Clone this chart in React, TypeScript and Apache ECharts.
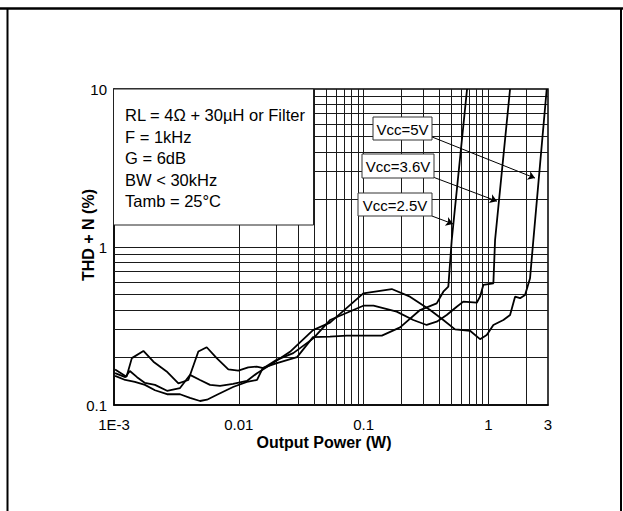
import React, { useEffect, useRef } from "react";
import * as echarts from "echarts";

const FONT = '"Liberation Sans", Arial, Helvetica, sans-serif';

// Tick labels
const xTickValues = [0.001, 0.01, 0.1, 1, 3];
const xTickLabels = ["1E-3", "0.01", "0.1", "1", "3"];
const yTickValues = [0.1, 1, 10];
const yTickLabels = ["0.1", "1", "10"];

// Grid line positions (log grid)
const xGridValues = [
  0.002, 0.003, 0.004, 0.005, 0.006, 0.007, 0.008, 0.009, 0.01,
  0.02, 0.03, 0.04, 0.05, 0.06, 0.07, 0.08, 0.09, 0.1,
  0.2, 0.3, 0.4, 0.5, 0.6, 0.7, 0.8, 0.9, 1, 2,
];
const yGridValues = [
  0.2, 0.3, 0.4, 0.5, 0.6, 0.7, 0.8, 0.9, 1,
  2, 3, 4, 5, 6, 7, 8, 9,
];

// Vcc = 5V
const vcc5X = [0.00102, 0.00123, 0.00134, 0.00153, 0.00177, 0.00213, 0.00266, 0.00338, 0.00406, 0.00489, 0.00588, 0.00707, 0.00899, 0.0116, 0.014, 0.0178, 0.0257, 0.0393, 0.0538, 0.0994, 0.168, 0.235, 0.341, 0.435, 0.54, 0.712, 0.856, 0.969, 1.095, 1.317, 1.49, 1.634, 1.792, 1.965, 2.154, 2.29, 2.93];
const vcc5Y = [0.159, 0.15, 0.164, 0.15, 0.138, 0.134, 0.123, 0.128, 0.155, 0.144, 0.134, 0.132, 0.136, 0.142, 0.159, 0.179, 0.217, 0.298, 0.332, 0.509, 0.542, 0.485, 0.399, 0.345, 0.301, 0.295, 0.261, 0.277, 0.321, 0.345, 0.371, 0.485, 0.474, 0.497, 0.634, 1.107, 10];

// Vcc = 3.6V
const vcc36X = [0.00102, 0.00126, 0.00139, 0.00172, 0.00207, 0.00264, 0.00328, 0.00394, 0.00474, 0.00553, 0.00665, 0.00824, 0.00991, 0.0119, 0.0139, 0.0157, 0.0201, 0.0273, 0.0395, 0.0538, 0.0994, 0.12, 0.184, 0.25, 0.32, 0.385, 0.463, 0.557, 0.629, 0.806, 0.856, 0.91, 1.095, 1.13, 1.49];
const vcc36Y = [0.168, 0.151, 0.198, 0.22, 0.188, 0.163, 0.137, 0.144, 0.218, 0.232, 0.198, 0.168, 0.165, 0.173, 0.175, 0.171, 0.193, 0.213, 0.264, 0.345, 0.425, 0.425, 0.39, 0.345, 0.321, 0.337, 0.371, 0.419, 0.451, 0.444, 0.485, 0.575, 0.589, 1.107, 10];

// Vcc = 2.5V
const vcc25X = [0.00102, 0.00123, 0.00147, 0.00177, 0.00213, 0.00266, 0.00338, 0.00406, 0.00489, 0.00556, 0.00669, 0.00899, 0.0116, 0.014, 0.0156, 0.0202, 0.0293, 0.0393, 0.0538, 0.0732, 0.14, 0.196, 0.283, 0.385, 0.435, 0.477, 0.508, 0.674];
const vcc25Y = [0.153, 0.144, 0.14, 0.134, 0.124, 0.117, 0.117, 0.111, 0.106, 0.108, 0.116, 0.13, 0.14, 0.144, 0.172, 0.184, 0.201, 0.269, 0.271, 0.275, 0.275, 0.31, 0.399, 0.44, 0.521, 0.561, 1.107, 10];

// Arrow annotations (data coordinates: start -> end)
const arrow5 = [[0.353, 4.97], [2.36, 2.73]];
const arrow36 = [[0.36, 2.77], [1.17, 1.95]];
const arrow25 = [[0.353, 1.57], [0.52, 1.4]];

const conditionLines = [
  "RL = 4\u03A9 + 30\u00B5H or Filter",
  "F = 1kHz",
  "G = 6dB",
  "BW < 30kHz",
  "Tamb = 25\u00B0C",
];

const zip = (xs: number[], ys: number[]) => xs.map((x, i) => [x, ys[i]]);

const labelFor = (v: number, vals: number[], labels: string[]) => {
  let best = 0;
  let bd = Infinity;
  vals.forEach((t, i) => {
    const d = Math.abs(Math.log10(v) - Math.log10(t));
    if (d < bd) {
      bd = d;
      best = i;
    }
  });
  return bd < 0.01 ? labels[best] : "";
};

export default function App() {
  const ref = useRef<HTMLDivElement>(null);

  useEffect(() => {
    if (!ref.current) return;
    const chart = echarts.init(ref.current, undefined, { renderer: "svg" });

    const curveStyle = { color: "#000", width: 1.8 };
    const mkCurve = (name: string, xs: number[], ys: number[]) => ({
      name,
      type: "line",
      data: zip(xs, ys),
      showSymbol: false,
      symbol: "none",
      lineStyle: curveStyle,
      itemStyle: { color: "#000" },
      z: 5,
      silent: true,
    });

    const boxText = (x: number, y: number, w: number, h: number, text: string) => ({
      type: "group",
      z: 100,
      children: [
        {
          type: "rect",
          shape: { x, y, width: w, height: h },
          style: { fill: "#fff", stroke: "#333", lineWidth: 1 },
          z: 100,
        },
        {
          type: "text",
          x: x + w / 2,
          y: y + h / 2 + 0.5,
          style: {
            text,
            fill: "#000",
            font: `15px ${FONT}`,
            textAlign: "center",
            textVerticalAlign: "middle",
          },
          z: 101,
        },
      ],
    });

    const option: any = {
      animation: false,
      textStyle: { fontFamily: FONT },
      grid: {
        left: 114,
        top: 89,
        width: 434,
        height: 316,
        show: true,
        borderColor: "#000",
        borderWidth: 1.5,
        backgroundColor: "transparent",
      },
      xAxis: {
        type: "log",
        logBase: 10,
        min: 0.001,
        max: 3,
        axisLine: { show: true, lineStyle: { color: "#000", width: 1.5 } },
        axisTick: { show: false },
        splitLine: { show: false },
        axisLabel: {
          customValues: xTickValues,
          formatter: (v: number) => labelFor(v, xTickValues, xTickLabels),
          color: "#000",
          fontSize: 15,
          fontFamily: FONT,
          margin: 12,
        },
        name: "Output Power (W)",
        nameLocation: "middle",
        nameGap: 29,
        nameMoveOverlap: false,
        nameTextStyle: {
          fontWeight: "bold",
          fontSize: 16,
          color: "#000",
          fontFamily: FONT,
          padding: [0, 14, 0, 0],
        },
      },
      yAxis: {
        type: "log",
        logBase: 10,
        min: 0.1,
        max: 10,
        axisLine: { show: true, lineStyle: { color: "#000", width: 1.5 } },
        axisTick: { show: false },
        splitLine: { show: false },
        axisLabel: {
          customValues: yTickValues,
          formatter: (v: number) => labelFor(v, yTickValues, yTickLabels),
          color: "#000",
          fontSize: 15,
          fontFamily: FONT,
          margin: 7,
        },
        name: "THD + N (%)",
        nameLocation: "middle",
        nameGap: 18,
        nameMoveOverlap: false,
        nameTextStyle: {
          fontWeight: "bold",
          fontSize: 16,
          color: "#000",
          fontFamily: FONT,
          padding: [0, 0, 0, 24],
        },
      },
      series: [
        {
          name: "grid",
          type: "line",
          data: [],
          silent: true,
          z: 1,
          markLine: {
            silent: true,
            symbol: "none",
            animation: false,
            label: { show: false },
            lineStyle: { color: "#1a1a1a", width: 1, type: "solid" },
            emphasis: { disabled: true },
            data: [
              ...xGridValues.map((v) => ({ xAxis: v })),
              ...yGridValues.map((v) => ({ yAxis: v })),
            ],
          },
        },
        mkCurve("Vcc=5V", vcc5X, vcc5Y),
        mkCurve("Vcc=3.6V", vcc36X, vcc36Y),
        mkCurve("Vcc=2.5V", vcc25X, vcc25Y),
        {
          name: "arrows",
          type: "line",
          data: [],
          silent: true,
          z: 6,
          markLine: {
            silent: true,
            symbol: ["none", "arrow"],
            symbolSize: 7,
            animation: false,
            label: { show: false },
            lineStyle: { color: "#000", width: 1, type: "solid" },
            emphasis: { disabled: true },
            data: [arrow5, arrow36, arrow25].map((a) => [
              { coord: a[0] },
              { coord: a[1] },
            ]),
          },
        },
      ],
      graphic: [
        // outer frame
        { type: "line", shape: { x1: 0, y1: 8.5, x2: 623, y2: 8.5 }, style: { stroke: "#000", lineWidth: 2.5 }, z: 200 },
        { type: "line", shape: { x1: 7.5, y1: 8, x2: 7.5, y2: 511 }, style: { stroke: "#000", lineWidth: 2 }, z: 200 },
        { type: "line", shape: { x1: 621, y1: 8, x2: 621, y2: 511 }, style: { stroke: "#000", lineWidth: 2 }, z: 200 },
        // condition box
        {
          type: "group",
          z: 100,
          children: [
            {
              type: "rect",
              shape: { x: 113.5, y: 89, width: 200, height: 136 },
              style: { fill: "#fff", stroke: "#222", lineWidth: 1 },
              z: 100,
            },
            ...conditionLines.map((t, i) => ({
              type: "text",
              x: 125,
              y: 115 + i * 21.5,
              style: {
                text: t,
                fill: "#000",
                font: `16.5px ${FONT}`,
                textAlign: "left",
                textVerticalAlign: "middle",
              },
              z: 101,
            })),
          ],
        },
        boxText(373, 117, 59, 23, "Vcc=5V"),
        boxText(362, 154, 72, 24, "Vcc=3.6V"),
        boxText(358, 193, 74, 23, "Vcc=2.5V"),
      ],
    };

    chart.setOption(option);
    return () => chart.dispose();
  }, []);

  return (
    <div
      ref={ref}
      style={{ position: "fixed", left: 0, top: 0, width: 623, height: 511, background: "#fff" }}
    />
  );
}
